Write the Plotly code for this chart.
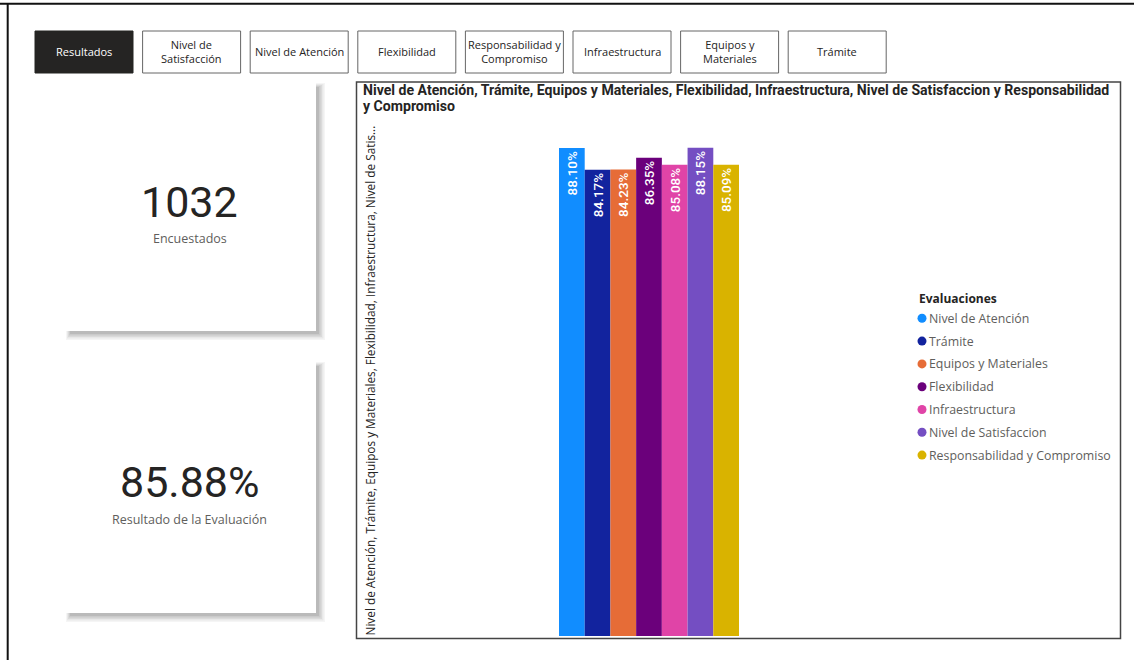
import plotly.graph_objects as go

# ---------------- data ----------------
categories = ["Nivel de Atención", "Trámite", "Equipos y Materiales", "Flexibilidad",
              "Infraestructura", "Nivel de Satisfaccion", "Responsabilidad y Compromiso"]
values = [88.10, 84.17, 84.23, 86.35, 85.08, 88.15, 85.09]
colors = ["#118DFF", "#12239E", "#E66C37", "#6B007B", "#E044A7", "#744EC2", "#D9B300"]

buttons = ["Resultados", "Nivel de<br>Satisfacción", "Nivel de Atención", "Flexibilidad",
           "Responsabilidad y<br>Compromiso", "Infraestructura", "Equipos y<br>Materiales", "Trámite"]
card_values = ["1032", "85.88%"]
card_labels = ["Encuestados", "Resultado de la Evaluación"]

chart_title_lines = ["Nivel de Atención, Trámite, Equipos y Materiales, Flexibilidad, Infraestructura, "
                     "Nivel de Satisfaccion y Responsabilidad", "y Compromiso"]
yaxis_title = ("Nivel de Atención, Trámite, Equipos y Materiales, Flexibilidad, "
               "Infraestructura, Nivel de Satis...")
legend_title = "Evaluaciones"

W, H = 1134, 660


def px(x):
    return x / W


def py(y):
    return 1 - y / H


fig = go.Figure()

for cat, v, c in zip(categories, values, colors):
    fig.add_trace(go.Bar(
        x=["Evaluaciones"], y=[v], name=cat, marker=dict(color=c, line=dict(width=0)),
        text=[f"{v:.2f}%"], textposition="inside", insidetextanchor="end",
        textangle=-90, textfont=dict(color="white", size=13.5, family="Roboto Medium, Roboto"),
        showlegend=False, cliponaxis=False, hoverinfo="skip",
    ))

# plot area (pixels)
x0, x1 = 362, 936
ytop, ybot = 130, 636
ymax = 88.10 * (ybot - ytop) / 488.0

shapes = []
# page border
shapes.append(dict(type="line", xref="paper", yref="paper", x0=0, x1=1, y0=py(3.7), y1=py(3.7),
                   line=dict(color="#111", width=2)))
shapes.append(dict(type="line", xref="paper", yref="paper", x0=px(7.7), x1=px(7.7), y0=0, y1=py(3.7),
                   line=dict(color="#111", width=2)))

# buttons
bx0 = 35
for i, b in enumerate(buttons):
    l = bx0 + i * 107.6
    r = l + 98
    dark = i == 0
    shapes.append(dict(type="rect", xref="paper", yref="paper", x0=px(l), x1=px(r), y0=py(73), y1=py(31),
                       fillcolor="#252423" if dark else "white",
                       line=dict(color="#252423" if dark else "#666", width=1)))
    fig.add_annotation(x=px((l + r) / 2), y=py(52), xref="paper", yref="paper", text=b, showarrow=False,
                       font=dict(size=11, color="white" if dark else "#252423", family="Open Sans"),
                       xanchor="center", yanchor="middle")

# cards with shadows
cards = [(63, 80, 316, 331), (63, 359, 316, 613)]
for (l, t, r, bt), val, lab in zip(cards, card_values, card_labels):
    for k, op in enumerate([0.04, 0.05, 0.06, 0.07, 0.08]):
        d = 9 - k * 1.5
        shapes.append(dict(type="rect", xref="paper", yref="paper",
                           x0=px(l + 3 + k), x1=px(r + d), y0=py(bt + d), y1=py(t + 3 + k),
                           fillcolor=f"rgba(0,0,0,{op})", line=dict(width=0)))
    shapes.append(dict(type="rect", xref="paper", yref="paper", x0=px(l), x1=px(r), y0=py(bt), y1=py(t),
                       fillcolor="white", line=dict(width=0)))
    cy = (t + bt) / 2
    fig.add_annotation(x=px((l + r) / 2), y=py(cy - 4), xref="paper", yref="paper", text=val,
                       showarrow=False, font=dict(size=43, color="#252423", family="Roboto"),
                       xanchor="center", yanchor="middle")
    fig.add_annotation(x=px((l + r) / 2), y=py(cy + 33), xref="paper", yref="paper", text=lab,
                       showarrow=False, font=dict(size=12.5, color="#605E5C", family="Open Sans"),
                       xanchor="center", yanchor="middle")

# chart box
shapes.append(dict(type="rect", xref="paper", yref="paper", x0=px(356.5), x1=px(1120.5), y0=py(638.5), y1=py(82),
                   line=dict(color="#444", width=1.5), fillcolor="rgba(0,0,0,0)", layer="below"))

for j, line in enumerate(chart_title_lines):
    fig.add_annotation(x=px(361), y=py(90 + 16 * j), xref="paper", yref="paper", text="<b>" + line + "</b>",
                       showarrow=False, align="left", xanchor="left", yanchor="middle",
                       font=dict(size=14.1, color="#252423", family="Roboto"))
fig.add_annotation(x=px(369), y=py(380.5), xref="paper", yref="paper", text=yaxis_title, textangle=-90,
                   showarrow=False, xanchor="center", yanchor="middle",
                   font=dict(size=11.8, color="#252423", family="Open Sans"))

# legend (drawn as annotations + circle markers)
fig.add_annotation(x=px(917), y=py(298), xref="paper", yref="paper", text="<b>" + legend_title + "</b>",
                   showarrow=False, xanchor="left", yanchor="middle",
                   font=dict(size=12, color="#252423", family="Open Sans"))
for i, (cat, c) in enumerate(zip(categories, colors)):
    yc = 318.3 + i * 22.8
    shapes.append(dict(type="circle", xref="paper", yref="paper", x0=px(917.5), x1=px(926.5),
                       y0=py(yc + 4.5), y1=py(yc - 4.5), fillcolor=c, line=dict(width=0)))
    fig.add_annotation(x=px(927), y=py(yc), xref="paper", yref="paper", text=cat,
                       showarrow=False, xanchor="left", yanchor="middle",
                       font=dict(size=12.35, color="#605E5C", family="Open Sans"))

fig.update_layout(
    width=W, height=H, margin=dict(l=0, r=0, t=0, b=0),
    paper_bgcolor="white", plot_bgcolor="rgba(0,0,0,0)",
    barmode="group", bargap=1 - 180 / (x1 - x0), bargroupgap=0,
    xaxis=dict(domain=[px(x0), px(x1)], range=[-0.5, 0.5], visible=False, fixedrange=True),
    yaxis=dict(domain=[py(ybot), py(ytop)], range=[0, ymax], visible=False, fixedrange=True),
    shapes=shapes,
    showlegend=False,
)

fig.write_html("out.html", config={"displayModeBar": False},
               post_script="document.body.style.margin='0';document.body.style.overflow='hidden';")
